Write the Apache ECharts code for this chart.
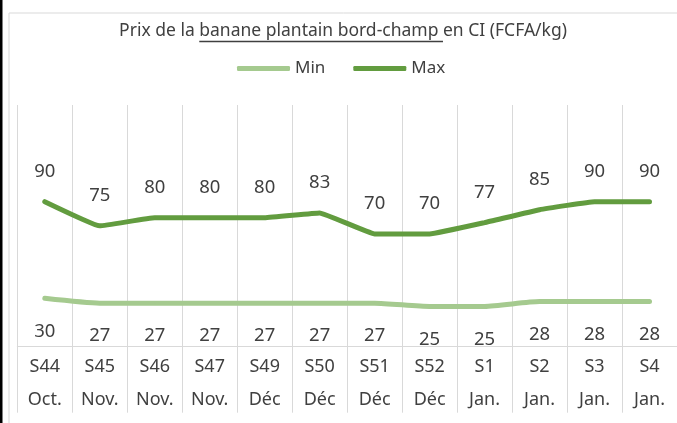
<!DOCTYPE html>
<html>
<head>
<meta charset="utf-8">
<script src="https://cdn.jsdelivr.net/npm/echarts@6/dist/echarts.min.js"></script>
<style>
  html, body { margin: 0; padding: 0; background: #fff; }
  #chart { width: 677px; height: 423px; }
</style>
</head>
<body>
<div id="chart"></div>
<script>
// données
const weeks = ['S44', 'S45', 'S46', 'S47', 'S49', 'S50', 'S51', 'S52', 'S1', 'S2', 'S3', 'S4']
const months = ['Oct.', 'Nov.', 'Nov.', 'Nov.', 'Déc', 'Déc', 'Déc', 'Déc', 'Jan.', 'Jan.', 'Jan.', 'Jan.']
const minPrices = [30, 27, 27, 27, 27, 27, 27, 25, 25, 28, 28, 28]
const maxPrices = [90, 75, 80, 80, 80, 83, 70, 70, 77, 85, 90, 90]

const FONT = '"Noto Sans", sans-serif'
const TXT = '#404040'
const GRID = '#d9d9d9'

const titleParts = ['Prix de la ', 'banane plantain bord-champ ', 'en CI (FCFA/kg)']
const titleSize = 17.5

// mesure du titre pour placer le soulignement
const ctx = document.createElement('canvas').getContext('2d')
ctx.font = titleSize + 'px "Noto Sans"'
const wPre = ctx.measureText(titleParts[0]).width
const wMid = ctx.measureText(titleParts[1]).width
const wAll = ctx.measureText(titleParts.join('')).width
const titleLeft = 343 - wAll / 2

const myChart = echarts.init(document.getElementById('chart'))
const option = {
  backgroundColor: '#fff',
  animation: false,
  title: {
    text: titleParts.join(''),
    left: titleLeft,
    top: 20,
    padding: 0,
    textStyle: {
      fontFamily: FONT,
      fontSize: titleSize,
      fontWeight: 'normal',
      color: TXT,
      lineHeight: 22
    }
  },
  legend: {
    data: ['Min', 'Max'],
    left: 237,
    top: 60,
    padding: 0,
    icon: 'roundRect',
    itemWidth: 53,
    itemHeight: 5,
    itemGap: 28,
    textStyle: {
      fontFamily: FONT,
      fontSize: 17,
      color: TXT
    }
  },
  graphic: [
    {
      type: 'rect',
      shape: { x: 9, y: 13, width: 700, height: 500 },
      style: { fill: null, stroke: GRID, lineWidth: 1 },
      silent: true
    },
    {
      type: 'rect',
      shape: { x: 0, y: 0, width: 2.5, height: 423 },
      style: { fill: '#000' },
      silent: true
    },
    {
      type: 'line',
      shape: { x1: titleLeft + wPre, y1: 41.5, x2: titleLeft + wPre + wMid, y2: 41.5 },
      style: { stroke: TXT, lineWidth: 1.3 },
      silent: true
    }
  ],
  grid: {
    left: 17.3,
    right: -4.3,
    top: 105,
    bottom: 76.3,
    containLabel: false
  },
  xAxis: [
    {
      type: 'category',
      boundaryGap: true,
      data: weeks,
      axisLine: { show: true, lineStyle: { color: GRID, width: 1 } },
      axisTick: { show: true, interval: 0, length: 66, lineStyle: { color: GRID, width: 1 } },
      splitLine: { show: true, interval: 0, lineStyle: { color: GRID, width: 1 } },
      axisLabel: {
        interval: 0,
        margin: 4,
        fontFamily: FONT,
        fontSize: 18,
        lineHeight: 33,
        color: TXT,
        formatter: (v, i) => v + '\n' + months[i]
      }
    }
  ],
  yAxis: [
    {
      type: 'value',
      min: 0,
      max: 150,
      show: false,
      splitLine: { show: false }
    }
  ],
  series: [
    {
      name: 'Min',
      type: 'line',
      data: minPrices,
      smooth: 0.2,
      symbol: 'circle',
      symbolSize: 1,
      showSymbol: true,
      color: '#a5ca8f',
      lineStyle: { width: 5, color: '#a5ca8f', cap: 'round' },
      label: {
        show: true,
        position: 'bottom',
        distance: 22.5,
        fontFamily: FONT,
        fontSize: 18.5,
        lineHeight: 20,
        color: TXT
      }
    },
    {
      name: 'Max',
      type: 'line',
      data: maxPrices,
      smooth: 0.08,
      symbol: 'circle',
      symbolSize: 1,
      showSymbol: true,
      color: '#629c3f',
      lineStyle: { width: 5, color: '#629c3f', cap: 'round' },
      label: {
        show: true,
        position: 'top',
        distance: 19.5,
        fontFamily: FONT,
        fontSize: 18.5,
        lineHeight: 20,
        color: TXT
      }
    }
  ]
}
myChart.setOption(option)
</script>
</body>
</html>
